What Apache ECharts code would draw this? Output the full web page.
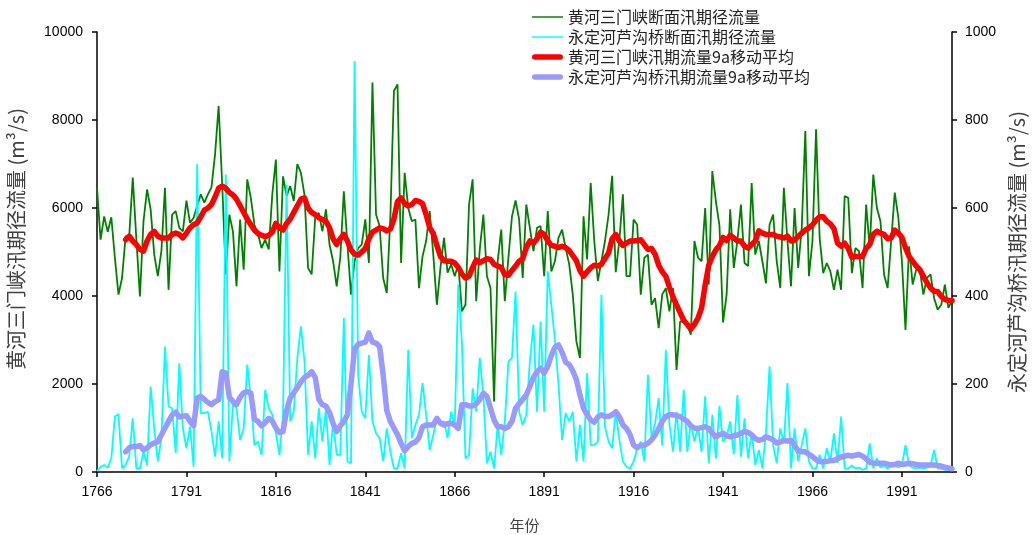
<!DOCTYPE html>
<html>
<head>
<meta charset="utf-8">
<script src="https://cdn.jsdelivr.net/npm/echarts@6/dist/echarts.min.js"></script>
<style>
  html, body { margin: 0; padding: 0; background: #fff; }
  #chart { width: 1032px; height: 535px; }
</style>
</head>
<body>
<div id="chart"></div>
<script>
// Flood-season runoff, 1766-2005
const firstYear = 1766;
const lastYear = 2005;

// 黄河三门峡断面汛期径流量 (m3/s), one value per year
const sanmenxiaFlow = [
  6460, 5280, 5810, 5460, 5790, 4870, 4030, 4410, 5360, 5360,
  6690, 5300, 3990, 5700, 6420, 5970, 4940, 4450, 5020, 6460,
  4140, 5850, 5930, 5550, 5470, 6170, 5660, 5780, 6050, 6310,
  6120, 6310, 6470, 7220, 8320, 6530, 4490, 5850, 5470, 4220,
  5740, 4600, 6650, 6230, 5620, 5400, 5090, 5280, 5060, 6310,
  7100, 4560, 6720, 6270, 6500, 6160, 7000, 6800, 6300, 4640,
  4490, 5780, 5890, 5470, 5970, 5170, 4790, 4220, 4870, 6380,
  5170, 4030, 4790, 5090, 5170, 5740, 4750, 8850, 5850, 5590,
  4410, 4070, 5780, 8660, 8810, 4750, 6800, 6000, 5700, 5740,
  4180, 4900, 5250, 5930, 4940, 3800, 4640, 5320, 4530, 4720,
  4450, 4720, 3650, 3800, 6080, 6650, 3880, 5060, 5850, 4450,
  4180, 1600, 4790, 5510, 3880, 4870, 5810, 6170, 5740, 4410,
  6080, 5550, 5020, 5550, 5590, 4450, 5930, 4560, 4790, 5320,
  5510, 5090, 4720, 4030, 2970, 2590, 5810, 4830, 6570, 5250,
  4340, 4790, 5250, 5850, 6730, 4540, 5250, 6310, 4450, 4450,
  5740, 5620, 4030, 4870, 4940, 3800, 3950, 3270, 4030, 4180,
  3650, 4180, 2320, 3420, 3420, 3350, 3120, 5250, 4870, 4790,
  6000, 4260, 6840, 6150, 5600, 3400, 4030, 5970, 4640, 5250,
  6080, 4750, 4680, 6570, 4940, 5250, 4790, 4290, 5620, 5850,
  4790, 4180, 6460, 5250, 4220, 6000, 4640, 5550, 7750, 4450,
  5250, 7790, 5320, 4520, 4750, 4560, 4140, 4600, 4140, 6270,
  6230, 4520, 5090, 5020, 4180, 6080, 5090, 6760, 6000, 5700,
  4490, 4180, 5250, 6350, 5780, 4790, 3230, 5130, 4260, 4600,
  4600, 4030, 4410, 4490, 3950, 3690, 3800, 4260, 3730, 3900
];

// 永定河芦沟桥断面汛期径流量 (m3/s), one value per year
const lugouqiaoFlow = [
  2, 12, 16, 10, 31, 126, 131, 8, 16, 35,
  122, 8, 8, 46, 16, 194, 99, 24, 77, 285,
  149, 145, 43, 247, 99, 54, 103, 12, 700, 134,
  134, 137, 92, 35, 115, 31, 676, 24, 153, 145,
  73, 99, 244, 168, 61, 69, 39, 187, 145, 130,
  88, 39, 130, 653, 115, 137, 259, 331, 251, 39,
  115, 31, 145, 69, 145, 16, 115, 39, 39, 350,
  24, 20, 934, 221, 137, 122, 266, 115, 88, 77,
  24, 99, 46, 8, 8, 43, 8, 278, 77, 107,
  130, 202, 130, 50, 84, 122, 111, 115, 77, 137,
  103, 426, 293, 31, 39, 190, 137, 259, 175, 20,
  46, 8, 107, 39, 115, 251, 260, 410, 137, 107,
  130, 251, 335, 137, 342, 137, 456, 380, 300, 200,
  73, 134, 115, 137, 24, 107, 24, 225, 61, 61,
  69, 403, 103, 69, 54, 137, 73, 24, 12, 8,
  24, 54, 69, 24, 221, 77, 111, 168, 60, 278,
  110, 46, 137, 46, 187, 46, 111, 69, 103, 46,
  172, 20, 130, 30, 150, 69, 80, 115, 40, 175,
  35, 122, 31, 92, 16, 50, 8, 90, 240, 61,
  20, 99, 65, 202, 8, 99, 24, 61, 99, 24,
  8, 8, 39, 8, 54, 24, 88, 20, 126, 8,
  8, 15, 8, 10, 5, 8, 65, 8, 31, 10,
  15, 8, 15, 15, 10, 15, 61, 15, 10, 8,
  10, 8, 10, 15, 50, 8, 8, 5, 5, 5
];

// 9-year moving averages, starting with the ninth year (1774)
const sanmenxiaMA9 = [
  5280, 5360, 5250, 5170, 5060, 5020, 5250, 5400, 5470, 5360,
  5320, 5320, 5320, 5400, 5430, 5400, 5320, 5430, 5550, 5620,
  5660, 5800, 5950, 6000, 6080, 6250, 6450, 6500, 6450, 6350,
  6300, 6200, 6050, 5900, 5750, 5620, 5500, 5420, 5380, 5350,
  5380, 5450, 5650, 5550, 5500, 5650, 5750, 5900, 6050, 6200,
  6230, 6000, 5900, 5850, 5780, 5740, 5700, 5550, 5300, 5170,
  5300, 5400, 5250, 5050, 4950, 4930, 5000, 5080, 5300, 5450,
  5500, 5550, 5530, 5480, 5520, 5750, 6150, 6230, 6100, 6050,
  6080, 6170, 6150, 6100, 5850, 5550, 5420, 5150, 4900, 4800,
  4790, 4790, 4750, 4650, 4500, 4410, 4450, 4650, 4820, 4760,
  4800, 4850, 4830, 4720, 4680, 4650, 4480, 4470, 4580, 4680,
  4790, 4850, 5100, 5250, 5200, 5300, 5450, 5400, 5250, 5150,
  5130, 5100, 5130, 5100, 5030, 4920, 4800, 4580, 4450, 4550,
  4640, 4700, 4680, 4720, 4850, 4980, 5300, 5400, 5250, 5150,
  5200, 5250, 5250, 5260, 5280, 5170, 5060, 5080, 4950, 4700,
  4550, 4450, 4200, 3980, 3800, 3620, 3450, 3350, 3250, 3350,
  3500, 3730, 4250, 4700, 4900, 5050, 5150, 5330, 5260, 5380,
  5320, 5250, 5250, 5130, 5090, 5170, 5250, 5480, 5430, 5400,
  5400, 5400, 5360, 5340, 5320, 5360, 5250, 5270, 5350, 5430,
  5500, 5550, 5620, 5720, 5800, 5800, 5700, 5640, 5530, 5200,
  5130, 5200, 5080, 4880, 4900, 4900, 4900, 5080, 5170, 5400,
  5470, 5430, 5400, 5300, 5320, 5500, 5430, 5330, 5090, 4900,
  4790, 4680, 4600, 4450, 4300, 4180, 4110, 4100, 3990, 3920,
  3900, 3900
];

const lugouqiaoMA9 = [
  46, 55, 58, 58, 60, 50, 55, 62, 66, 69,
  84, 100, 115, 130, 136, 125, 127, 128, 115, 105,
  168, 172, 165, 158, 153, 160, 164, 228, 225, 170,
  160, 153, 170, 180, 183, 179, 120, 115, 105, 112,
  122, 116, 100, 90, 92, 140, 168, 180, 192, 205,
  215, 220, 228, 215, 165, 153, 150, 135, 110, 92,
  105, 115, 130, 200, 280, 290, 293, 295, 316, 295,
  293, 285, 220, 140, 115, 100, 85, 65, 48, 58,
  65, 68, 78, 103, 107, 107, 107, 122, 111, 107,
  110, 111, 107, 99, 153, 153, 150, 150, 155, 165,
  179, 172, 145, 118, 103, 103, 99, 103, 115, 145,
  155, 165, 175, 195, 215, 228, 236, 225, 240, 265,
  283, 289, 272, 250, 244, 230, 210, 175, 145, 130,
  118, 113, 125, 130, 126, 126, 130, 137, 126, 107,
  99, 85, 61, 55, 61, 61, 65, 73, 84, 99,
  115, 126, 130, 130, 128, 126, 120, 115, 105, 100,
  99, 101, 103, 99, 88, 80, 85, 88, 82, 80,
  82, 84, 88, 92, 90, 84, 76, 72, 74, 80,
  77, 73, 66, 68, 72, 70, 72, 60, 48, 46,
  46, 40, 35, 28, 24, 24, 24, 26, 26, 30,
  34, 36, 38, 36, 38, 40, 36, 30, 22, 20,
  20, 20, 20, 18, 16, 17, 20, 17, 18, 20,
  19, 17, 16, 16, 16, 16, 16, 15, 13, 11,
  9, 7
];

const seriesNames = [
  '黄河三门峡断面汛期径流量',
  '永定河芦沟桥断面汛期径流量',
  '黄河三门峡汛期流量9a移动平均',
  '永定河芦沟桥汛期流量9a移动平均'
];

const years = [];
for (let y = firstYear; y <= lastYear; y++) years.push(String(y));

// moving averages have no value for the first eight years
const lead = new Array(years.length - sanmenxiaMA9.length).fill(null);

const latin = 'Liberation Sans, Arial, sans-serif';
const cjk = '"Noto Sans CJK SC", "Noto Sans", sans-serif';

// legend keys: a horizontal bar inside a 12px-tall box (thin for yearly
// series, thick with rounded ends for the moving averages)
const thinKey = 'path://M0,0L0,0M0,5.2L34,5.2L34,6.8L0,6.8ZM0,12L0,12';
const thickKey = 'path://M0,0L0,0M3,3L31,3A3,3,0,0,1,31,9L3,9A3,3,0,0,1,3,3ZM0,12L0,12';

const plain = v => String(v);

const chart = echarts.init(document.getElementById('chart'), null, { renderer: 'canvas' });

chart.setOption({
  animation: false,
  backgroundColor: '#ffffff',
  grid: {
    left: 97, right: 80, top: 32, bottom: 63,
    containLabel: false,
    outerBoundsMode: 'none'
  },
  legend: {
    orient: 'vertical',
    left: 527,
    top: 4,
    padding: 5,
    itemWidth: 31,
    itemHeight: 12,
    itemGap: 4,
    textStyle: { fontFamily: cjk, fontSize: 16, color: '#222' },
    data: [
      { name: seriesNames[0], icon: thinKey },
      { name: seriesNames[1], icon: thinKey },
      { name: seriesNames[2], icon: thickKey },
      { name: seriesNames[3], icon: thickKey }
    ]
  },
  xAxis: {
    type: 'category',
    data: years,
    boundaryGap: false,
    name: '年份',
    nameLocation: 'middle',
    nameGap: 46,
    nameTextStyle: { fontFamily: cjk, fontSize: 15, color: '#404040' },
    axisLine: { lineStyle: { color: '#000', width: 1.5 } },
    axisTick: { interval: 24, length: 5, lineStyle: { color: '#000', width: 1.5 } },
    axisLabel: { interval: 24, margin: 13, fontFamily: latin, fontSize: 14, color: '#000' },
    splitLine: { show: false }
  },
  yAxis: [
    {
      type: 'value',
      min: 0, max: 10000, interval: 2000,
      name: '黄河三门峡汛期径流量 (m³/s)',
      nameLocation: 'middle',
      nameRotate: 90,
      nameGap: 71,
      nameTextStyle: { fontFamily: cjk, fontSize: 20, color: '#404040', padding: [0, 0, 0, 26] },
      axisLine: { show: true, lineStyle: { color: '#000', width: 1.5 } },
      axisTick: { show: true, length: 5, lineStyle: { color: '#000', width: 1.5 } },
      axisLabel: { margin: 14, fontFamily: latin, fontSize: 14, color: '#000', formatter: plain },
      splitLine: { show: false }
    },
    {
      type: 'value',
      min: 0, max: 1000, interval: 200,
      position: 'right',
      name: '永定河芦沟桥汛期径流量 (m³/s)',
      nameLocation: 'middle',
      nameRotate: 90,
      nameGap: 39,
      nameTextStyle: { fontFamily: cjk, fontSize: 20, color: '#404040' },
      axisLine: { show: true, lineStyle: { color: '#000', width: 1.5 } },
      axisTick: { show: true, length: 5, lineStyle: { color: '#000', width: 1.5 } },
      axisLabel: { margin: 13, fontFamily: latin, fontSize: 14, color: '#000', formatter: plain },
      splitLine: { show: false }
    }
  ],
  series: [
    {
      name: seriesNames[0], type: 'line', yAxisIndex: 0,
      data: sanmenxiaFlow, symbol: 'none', showSymbol: false,
      lineStyle: { color: '#008000', width: 1.8 },
      itemStyle: { color: '#008000' }, z: 2
    },
    {
      name: seriesNames[1], type: 'line', yAxisIndex: 1,
      data: lugouqiaoFlow, symbol: 'none', showSymbol: false,
      lineStyle: { color: '#00ffff', width: 1.8 },
      itemStyle: { color: '#00ffff' }, z: 3
    },
    {
      name: seriesNames[2], type: 'line', yAxisIndex: 0,
      data: lead.concat(sanmenxiaMA9), symbol: 'none', showSymbol: false,
      lineStyle: { color: '#ff0000', width: 5.5, cap: 'round', join: 'round' },
      itemStyle: { color: '#ff0000' }, z: 4
    },
    {
      name: seriesNames[3], type: 'line', yAxisIndex: 1,
      data: lead.concat(lugouqiaoMA9), symbol: 'none', showSymbol: false,
      lineStyle: { color: '#9999ff', width: 5.5, cap: 'round', join: 'round' },
      itemStyle: { color: '#9999ff' }, z: 5
    }
  ]
});
</script>
</body>
</html>
